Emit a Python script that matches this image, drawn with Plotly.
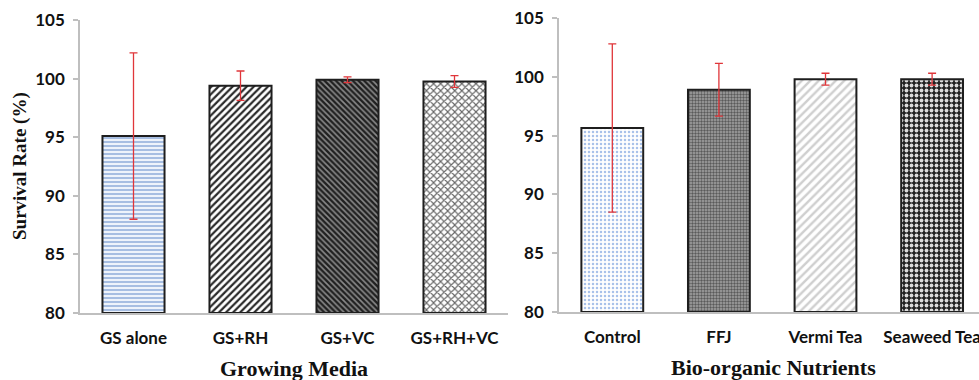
import plotly.graph_objects as go

# Left panel: Growing Media
media_cats = ["GS alone", "GS+RH", "GS+VC", "GS+RH+VC"]
media_vals = [95.1, 99.4, 99.9, 99.75]
media_err = [7.1, 1.25, 0.25, 0.5]

# Right panel: Bio-organic Nutrients
nutr_cats = ["Control", "FFJ", "Vermi Tea", "Seaweed Tea"]
nutr_vals = [95.65, 98.9, 99.8, 99.8]
nutr_err = [7.15, 2.25, 0.5, 0.5]

y_ticks = [80, 85, 90, 95, 100, 105]
BASE = 80

W, H = 979, 380
ERR_COLOR = "#e0363a"
TICK_FONT = dict(family="Lato, 'Open Sans', sans-serif", size=17, color="#111111", weight="bold")
TITLE_FAMILY = "'Liberation Serif', 'DejaVu Serif', serif"

fig = go.Figure()

fig.add_trace(go.Bar(
    x=media_cats, y=[v - BASE for v in media_vals], base=BASE,
    width=0.58,
    marker=dict(
        line=dict(color="#1e1e1e", width=2),
        pattern=dict(
            shape=["-", "/", "\\", "x"],
            fgcolor=["#9fb8e0", "#2a2a2a", "#8a8a8a", "#666666"],
            bgcolor=["#eef3fb", "#ffffff", "#202020", "#ffffff"],
            size=[4, 5, 4, 5],
            solidity=[0.45, 0.45, 0.4, 0.4],
            fillmode="replace",
        ),
    ),
    error_y=dict(type="data", array=media_err, color=ERR_COLOR, thickness=1.3, width=4),
    xaxis="x", yaxis="y", showlegend=False,
))

fig.add_trace(go.Bar(
    x=nutr_cats, y=[v - BASE for v in nutr_vals], base=BASE,
    width=0.58,
    marker=dict(
        line=dict(color="#1e1e1e", width=2),
        pattern=dict(
            shape=[".", ".", "/", "."],
            fgcolor=["#a9c2ea", "#5a5a5a", "#cfcfcf", "#dddddd"],
            bgcolor=["#ffffff", "#a5a5a5", "#ffffff", "#202020"],
            size=[4, 3, 6, 5],
            solidity=[0.3, 0.5, 0.4, 0.45],
            fillmode="replace",
        ),
    ),
    error_y=dict(type="data", array=nutr_err, color=ERR_COLOR, thickness=1.3, width=4),
    xaxis="x2", yaxis="y2", showlegend=False,
))

cat_w = 107.0
x1_dom = [80 / W, (80 + 4 * cat_w) / W]
x2_start = 559
x2_dom = [x2_start / W, 1.0]
x2_range = [-0.5, -0.5 + (W - x2_start) / 106.6]

ax_common = dict(
    showline=True, linecolor="#bfbfbf", linewidth=1.5,
    showgrid=False, zeroline=False, ticks="", automargin=False,
    tickfont=TICK_FONT, ticklabelstandoff=9,
)
yax_common = dict(
    range=[80, 105], tickvals=y_ticks, showline=True, linecolor="#bfbfbf",
    linewidth=1.5, showgrid=False, zeroline=False, ticks="outside",
    ticklen=5, tickcolor="#bfbfbf", tickwidth=1.5, tickfont=TICK_FONT,
    ticklabelstandoff=5, automargin=False,
)

fig.update_layout(
    width=W, height=H,
    margin=dict(l=0, r=0, t=0, b=0),
    paper_bgcolor="white", plot_bgcolor="white",
    xaxis=dict(domain=x1_dom, anchor="y", range=[-0.5, 3.5], **ax_common),
    yaxis=dict(domain=[1 - 313 / H, 1 - 20 / H], anchor="x", **yax_common),
    xaxis2=dict(domain=x2_dom, anchor="y2", range=x2_range, **ax_common),
    yaxis2=dict(domain=[1 - 312 / H, 1 - 18 / H], anchor="x2", **yax_common),
    annotations=[
        dict(text="<b>Growing Media</b>", xref="paper", yref="paper",
             x=294 / W, y=1 - 368 / H, xanchor="center", yanchor="middle",
             showarrow=False, font=dict(family=TITLE_FAMILY, size=22, color="#111111")),
        dict(text="<b>Bio-organic Nutrients</b>", xref="paper", yref="paper",
             x=773 / W, y=1 - 367 / H, xanchor="center", yanchor="middle",
             showarrow=False, font=dict(family=TITLE_FAMILY, size=22, color="#111111")),
        dict(text="<b>Survival Rate (%)</b>", xref="paper", yref="paper",
             x=20 / W, y=1 - 166 / H, xanchor="center", yanchor="middle",
             textangle=-90, showarrow=False,
             font=dict(family=TITLE_FAMILY, size=19, color="#111111")),
    ],
)

fig.write_html(
    "out.html",
    config={"displayModeBar": False},
    post_script="document.body.style.margin='0';document.body.style.padding='0';",
)
